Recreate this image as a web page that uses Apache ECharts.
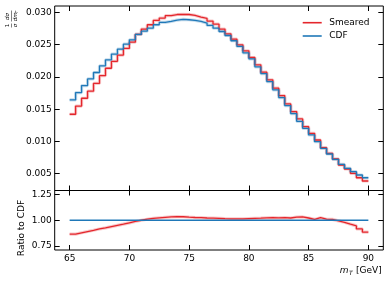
<!DOCTYPE html>
<html>
<head>
<meta charset="utf-8">
<script src="https://cdn.jsdelivr.net/npm/echarts@6/dist/echarts.min.js"></script>
<style>
html,body{margin:0;padding:0;background:#fff;}
#chart{width:390px;height:283px;}
</style>
</head>
<body>
<div id="chart"></div>
<script>
const binEdges = [65,65.5,66,66.5,67,67.5,68,68.5,69,69.5,70,70.5,71,71.5,72,72.5,73,73.5,74,74.5,75,75.5,76,76.5,77,77.5,78,78.5,79,79.5,80,80.5,81,81.5,82,82.5,83,83.5,84,84.5,85,85.5,86,86.5,87,87.5,88,88.5,89,89.5,90];
const smeared = [0.01422,0.01548,0.01670,0.01780,0.01900,0.02020,0.02135,0.02243,0.02340,0.02443,0.02540,0.02660,0.02742,0.02809,0.02876,0.02913,0.02950,0.02968,0.02970,0.02968,0.02954,0.02928,0.02907,0.02866,0.02819,0.02742,0.02669,0.02586,0.02498,0.02405,0.02302,0.02188,0.02074,0.01955,0.01826,0.01712,0.01582,0.01463,0.01349,0.01230,0.01127,0.01023,0.00904,0.00816,0.00728,0.00635,0.00573,0.00506,0.00438,0.00387];
const cdf = [0.01644,0.01758,0.01867,0.01970,0.02069,0.02172,0.02266,0.02354,0.02431,0.02509,0.02576,0.02660,0.02710,0.02757,0.02809,0.02845,0.02861,0.02882,0.02892,0.02887,0.02876,0.02861,0.02835,0.02799,0.02757,0.02705,0.02643,0.02561,0.02473,0.02374,0.02281,0.02157,0.02053,0.01929,0.01800,0.01681,0.01556,0.01432,0.01313,0.01204,0.01101,0.00997,0.00894,0.00806,0.00723,0.00646,0.00583,0.00532,0.00480,0.00438];
const ratioSmeared = [0.865,0.878,0.890,0.902,0.915,0.926,0.938,0.950,0.962,0.975,0.988,1.000,1.010,1.018,1.024,1.028,1.032,1.035,1.034,1.030,1.027,1.025,1.022,1.020,1.018,1.015,1.013,1.013,1.014,1.016,1.018,1.020,1.024,1.025,1.024,1.025,1.022,1.030,1.032,1.022,1.008,1.025,1.010,1.008,0.994,0.980,0.962,0.945,0.915,0.885];
const ratioCdf = [1,1,1,1,1,1,1,1,1,1,1,1,1,1,1,1,1,1,1,1,1,1,1,1,1,1,1,1,1,1,1,1,1,1,1,1,1,1,1,1,1,1,1,1,1,1,1,1,1,1];
const xTicks = [65,70,75,80,85,90];
const yTicksMain = [0.005,0.010,0.015,0.020,0.025,0.030];
const yTicksRatio = [0.75,1.00,1.25];

const RED = '#e4262c', BLUE = '#1f78b8';
const FONT = 'DejaVu Sans';

function stepData(vals){
  const d = vals.map((v,i)=>[binEdges[i], v]);
  d.push([binEdges[vals.length], vals[vals.length-1]]);
  return d;
}

const chart = echarts.init(document.getElementById('chart'), null, {renderer:'canvas'});

function xAx(grid, pos, labels){
  return {
    type:'value', gridIndex:grid, position:pos, min:63.75, max:91.25,
    axisLine:{show:false}, splitLine:{show:false},
    axisTick:{show:true, inside:true, length:5, customValues:xTicks, lineStyle:{color:'#000', width:1}},
    axisLabel:{show:labels, customValues:xTicks, margin:4.5, color:'#000', fontSize:9, fontFamily:FONT}
  };
}
function yAx(grid, pos, min, max, ticks, labels, fmt){
  return {
    type:'value', gridIndex:grid, position:pos, min:min, max:max,
    axisLine:{show:false}, splitLine:{show:false},
    axisTick:{show:true, inside:true, length:5, customValues:ticks, lineStyle:{color:'#000', width:1}},
    axisLabel:{show:labels, customValues:ticks, margin:3, color:'#000', fontSize:9, fontFamily:FONT, formatter:fmt}
  };
}

function lineSeries(name, vals, color, xi, yi, halo){
  return {
    name:name, type:'line', step:'end', data:stepData(vals), xAxisIndex:xi, yAxisIndex:yi,
    showSymbol:false, symbol:'none', silent:true, animation:false,
    lineStyle: halo ? {color:color, width:3.2, opacity:0.25} : {color:color, width:1.3},
    itemStyle:{color:color}, z: halo ? 1 : 3
  };
}

const option = {
  backgroundColor:'#fff',
  animation:false,
  textStyle:{fontFamily:FONT},
  grid:[
    {left:54.7, right:6.7, top:6, height:184.5, show:true, borderColor:'#000', borderWidth:1, backgroundColor:'transparent'},
    {left:54.7, right:6.7, top:190.5, height:59.5, show:true, borderColor:'#000', borderWidth:1, backgroundColor:'transparent'}
  ],
  xAxis:[ xAx(0,'bottom',false), xAx(0,'top',false), xAx(1,'bottom',true), xAx(1,'top',false) ],
  yAxis:[
    yAx(0,'left',0.0024,0.0310,yTicksMain,true,v=>v.toFixed(3)),
    yAx(0,'right',0.0024,0.0310,yTicksMain,false,v=>v.toFixed(3)),
    yAx(1,'left',0.71,1.29,yTicksRatio,true,v=>v.toFixed(2)),
    yAx(1,'right',0.71,1.29,yTicksRatio,false,v=>v.toFixed(2))
  ],
  legend:{
    data:['Smeared','CDF'], orient:'vertical', left:302.7, top:17.2, padding:0,
    icon:'rect', itemWidth:19, itemHeight:1.6, itemGap:2.3,
    textStyle:{fontSize:9, fontFamily:FONT, color:'#000', lineHeight:11, padding:[0,0,0,2.6]},
    selectedMode:false
  },
  series:[
    lineSeries('SmearedBand', smeared, RED, 0, 0, true),
    lineSeries('CDFBand', cdf, BLUE, 0, 0, true),
    lineSeries('Smeared', smeared, RED, 0, 0, false),
    lineSeries('CDF', cdf, BLUE, 0, 0, false),
    lineSeries('RatioSmearedBand', ratioSmeared, RED, 2, 2, true),
    lineSeries('RatioSmeared', ratioSmeared, RED, 2, 2, false),
    lineSeries('RatioCDF', ratioCdf, BLUE, 2, 2, false)
  ],
  graphic:[
    {type:'text', x:22, y:228, rotation:Math.PI/2,
     style:{text:'Ratio to CDF', font:'9px "DejaVu Sans"', fill:'#000', textAlign:'center', textVerticalAlign:'middle', verticalAlign:'middle'}},
    {type:'text', x:381.7, y:270.5,
     style:{text:'[GeV]', font:'9px "DejaVu Sans"', fill:'#000', textAlign:'right', textVerticalAlign:'middle', verticalAlign:'middle'}},
    {type:'text', x:352.6, y:273,
     style:{text:'T', font:'italic 6px "DejaVu Sans"', fill:'#000', textAlign:'right', textVerticalAlign:'middle', verticalAlign:'middle'}},
    {type:'text', x:348.6, y:270.5,
     style:{text:'m', font:'italic 9px "DejaVu Sans"', fill:'#000', textAlign:'right', textVerticalAlign:'middle', verticalAlign:'middle'}},
    {type:'group', x:11.5, y:27.5, rotation:Math.PI/2, children:[
      {type:'text', x:2, y:-0.6, style:{text:'1', font:'5.5px "DejaVu Sans"', fill:'#000', textAlign:'center', textVerticalAlign:'bottom', verticalAlign:'bottom'}},
      {type:'line', shape:{x1:0,y1:0,x2:4,y2:0}, style:{stroke:'#000', lineWidth:0.5}},
      {type:'text', x:2, y:0.6, style:{text:'σ', font:'italic 5.5px "DejaVu Sans"', fill:'#000', textAlign:'center', textVerticalAlign:'top', verticalAlign:'top'}},
      {type:'text', x:11, y:-0.6, style:{text:'dσ', font:'italic 5.5px "DejaVu Sans"', fill:'#000', textAlign:'center', textVerticalAlign:'bottom', verticalAlign:'bottom'}},
      {type:'line', shape:{x1:6,y1:0,x2:17,y2:0}, style:{stroke:'#000', lineWidth:0.5}},
      {type:'text', x:10.6, y:0.6, style:{text:'dm', font:'italic 5.5px "DejaVu Sans"', fill:'#000', textAlign:'center', textVerticalAlign:'top', verticalAlign:'top'}},
      {type:'text', x:14.3, y:3.2, style:{text:'T', font:'italic 4px "DejaVu Sans"', fill:'#000', textAlign:'left', textVerticalAlign:'top', verticalAlign:'top'}}
    ]}
  ]
};
chart.setOption(option);
</script>
</body>
</html>
